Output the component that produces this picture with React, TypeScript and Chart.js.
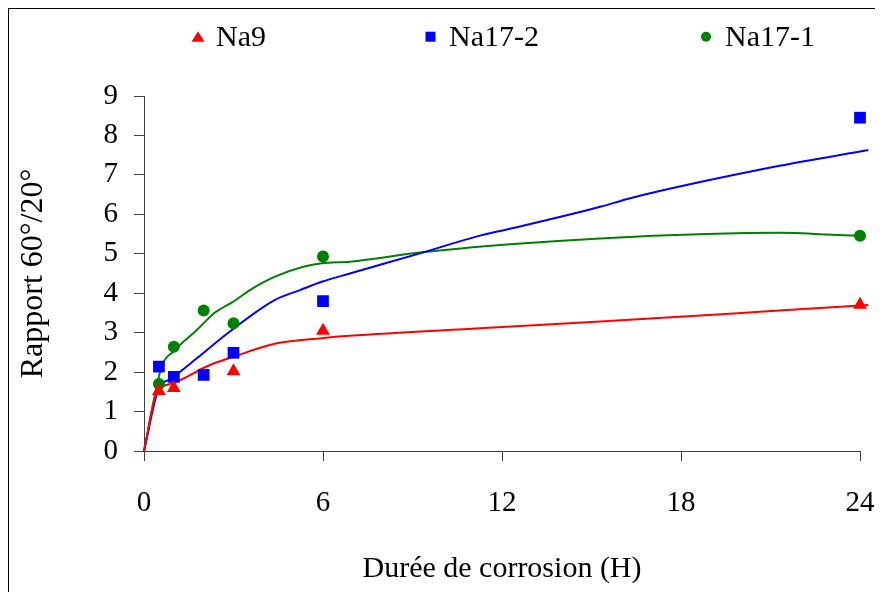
import React, { useEffect, useRef } from "react";
import { Chart, registerables } from "chart.js";

Chart.register(...registerables);

// Measured points
const hours = [0.5, 1, 2, 3, 6, 24];
const na9 = [1.52, 1.6, null, 2.02, 3.05, 3.71];
const na17_2 = [2.14, 1.88, 1.93, 2.49, 3.8, 8.45];
const na17_1 = [1.7, 2.64, 3.56, 3.24, 4.93, 5.46];

// Trend curves
const na9TrendX = [0, 0.42, 0.98, 2.21, 3.0, 4.45, 5.96, 6.9, 11.26, 15.29, 21.3, 24.28];
const na9TrendY = [0, 1.46, 1.72, 2.18, 2.39, 2.73, 2.86, 2.92, 3.11, 3.28, 3.56, 3.7];
const na17_2TrendX = [0, 0.48, 0.93, 1.77, 2.88, 4.39, 5.23, 5.96, 6.9, 9.25, 11.26, 12.6, 15.29, 16.3, 21.3, 24.28];
const na17_2TrendY = [0, 1.55, 1.84, 2.35, 3.03, 3.83, 4.08, 4.29, 4.5, 5.01, 5.46, 5.69, 6.19, 6.41, 7.23, 7.63];
const na17_1TrendX = [0, 0.59, 0.98, 1.77, 2.38, 3.0, 3.55, 4.39, 5.34, 5.96, 6.9, 9.25, 12.27, 15.29, 18.86, 21.3, 24.0, 24.28];
const na17_1TrendY = [0, 2.14, 2.52, 3.07, 3.51, 3.79, 4.08, 4.42, 4.67, 4.76, 4.8, 5.03, 5.24, 5.39, 5.5, 5.53, 5.46, 5.46];

const seriesNames = ["Na9", "Na17-2", "Na17-1"];
const xTitle = "Durée de corrosion (H)";
const yTitle = "Rapport 60°/20°";

const RED = "#FF0000";
const BLUE = "#0000FF";
const GREEN = "#008000";
const FAMILY = '"Liberation Serif", "Times New Roman", serif';
const FS = 29;

const pts = (xs: number[], ys: (number | null)[]) =>
  xs.map((x, i) => ({ x, y: ys[i] })).filter((p) => p.y !== null);

export default function App() {
  const ref = useRef<HTMLCanvasElement>(null);

  useEffect(() => {
    const legendPlugin = {
      id: "customLegend",
      afterDraw(chart: any) {
        const ctx = chart.ctx as CanvasRenderingContext2D;
        ctx.save();
        const cy = 27.7;
        const base = 36.7;
        ctx.fillStyle = RED;
        ctx.beginPath();
        ctx.moveTo(189, cy - 5.5);
        ctx.lineTo(195.5, cy + 5);
        ctx.lineTo(182.5, cy + 5);
        ctx.closePath();
        ctx.fill();
        ctx.fillStyle = BLUE;
        ctx.fillRect(416.5, cy - 5, 10, 10);
        ctx.fillStyle = GREEN;
        ctx.beginPath();
        ctx.arc(697, cy, 5, 0, Math.PI * 2);
        ctx.fill();
        ctx.fillStyle = "#000";
        ctx.font = `30px ${FAMILY}`;
        ctx.textBaseline = "alphabetic";
        ctx.textAlign = "left";
        ctx.fillText(seriesNames[0], 207, base);
        ctx.fillText(seriesNames[1], 440, base);
        ctx.fillText(seriesNames[2], 716, base);
        ctx.restore();
      },
    };

    const font = { family: FAMILY, size: FS };
    const chart = new Chart(ref.current as HTMLCanvasElement, {
      type: "scatter",
      data: {
        datasets: [
          { label: seriesNames[0], data: pts(hours, na9), backgroundColor: RED, borderColor: RED, pointStyle: "triangle", pointRadius: 8, pointBorderWidth: 0, showLine: false, clip: false, order: 1 },
          { label: seriesNames[1], data: pts(hours, na17_2), backgroundColor: BLUE, borderColor: BLUE, pointStyle: "rect", pointRadius: 8.3, pointBorderWidth: 0, showLine: false, clip: false, order: 2 },
          { label: seriesNames[2], data: pts(hours, na17_1), backgroundColor: GREEN, borderColor: GREEN, pointStyle: "circle", pointRadius: 6, pointBorderWidth: 0, showLine: false, clip: false, order: 3 },
          { label: "t1", data: pts(na9TrendX, na9TrendY), borderColor: RED, borderWidth: 2, pointRadius: 0, showLine: true, cubicInterpolationMode: "monotone", clip: false, order: 4 },
          { label: "t2", data: pts(na17_2TrendX, na17_2TrendY), borderColor: BLUE, borderWidth: 2, pointRadius: 0, showLine: true, cubicInterpolationMode: "monotone", clip: false, order: 5 },
          { label: "t3", data: pts(na17_1TrendX, na17_1TrendY), borderColor: GREEN, borderWidth: 2, pointRadius: 0, showLine: true, cubicInterpolationMode: "monotone", clip: false, order: 6 },
        ] as any,
      },
      options: {
        animation: false,
        responsive: false,
        devicePixelRatio: 1,
        layout: { padding: { left: 0, right: 23, top: 87, bottom: 0 } },
        plugins: { legend: { display: false }, tooltip: { enabled: false } },
        scales: {
          x: {
            type: "linear",
            min: 0,
            max: 24,
            ticks: { stepSize: 6, color: "#000", font, padding: 25, maxRotation: 0 },
            grid: { display: true, drawOnChartArea: false, drawTicks: true, tickLength: 10, color: "#404040", lineWidth: 1 },
            border: { display: true, color: "#404040", width: 1 },
            title: { display: true, text: xTitle, color: "#000", font: { family: FAMILY, size: 30 }, padding: { top: 0, bottom: 5 } },
            afterFit: (s: any) => { s.height = 141; s.paddingRight = 15; s.paddingLeft = 15; },
          },
          y: {
            type: "linear",
            min: 0,
            max: 9,
            ticks: { stepSize: 1, color: "#000", font, padding: 16 },
            grid: { display: true, drawOnChartArea: false, drawTicks: true, tickLength: 10, color: "#404040", lineWidth: 1 },
            border: { display: true, color: "#404040", width: 1 },
            title: { display: true, text: yTitle, color: "#000", font: { family: FAMILY, size: 32 }, padding: { top: 5, bottom: 0 } },
            afterFit: (s: any) => { s.width = 135; },
          },
        },
      } as any,
      plugins: [legendPlugin],
    });
    return () => chart.destroy();
  }, []);

  return (
    <div style={{ borderLeft: "1px solid #000", borderTop: "1px solid #000", width: 874, height: 583, background: "#fff" }}>
      <canvas ref={ref} width={874} height={583} style={{ display: "block", width: 874, height: 583 }} />
    </div>
  );
}
